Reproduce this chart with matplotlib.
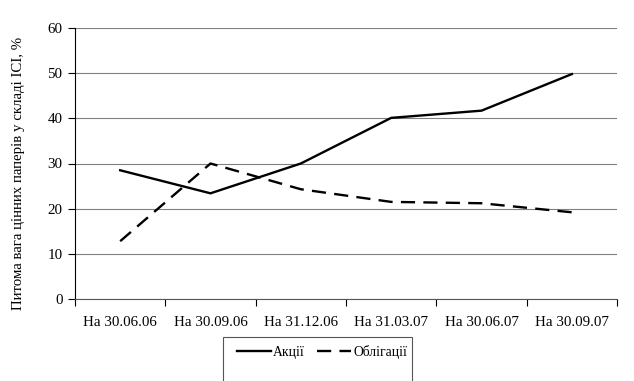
import matplotlib.pyplot as plt
from matplotlib.patches import Rectangle
import numpy as np

plt.rcParams['font.family'] = ['Liberation Serif', 'DejaVu Serif']

# Data
dates = ['На 30.06.06', 'На 30.09.06', 'На 31.12.06', 'На 31.03.07', 'На 30.06.07', 'На 30.09.07']
shares = [28.5, 23.4, 30.0, 40.1, 41.7, 49.8]
bonds = [12.8, 30.0, 24.3, 21.5, 21.2, 19.2]

fig = plt.figure(figsize=(6.34, 3.81), dpi=100)
ax = fig.add_axes([75 / 634, 1 - 299 / 381, 542 / 634, 271 / 381])

x = np.arange(len(dates))
ax.plot(x, shares, color='black', linewidth=1.7, linestyle='-', label='Акції')
ax.plot(x, bonds, color='black', linewidth=1.7, linestyle=(0, (6, 3.5)), label='Облігації')

ax.set_xlim(-0.5, len(dates) - 0.5)
ax.set_ylim(0, 60)
ax.set_yticks(range(0, 61, 10))
ax.set_xticks(x)
ax.set_xticklabels(dates)
ax.set_xticks(np.arange(-0.5, len(dates), 1), minor=True)
ax.tick_params(axis='x', which='major', length=0, pad=12, labelsize=10.8)
ax.tick_params(axis='x', which='minor', length=5, width=0.8, direction='out')
ax.tick_params(axis='y', length=5, width=0.8, direction='out', labelsize=10.8, pad=4)

ax.grid(axis='y', color='#808080', linewidth=0.8)
ax.set_axisbelow(True)
for side in ['top', 'right']:
    ax.spines[side].set_visible(False)
ax.spines['left'].set_color('black')
ax.spines['bottom'].set_color('#555555')

ax.set_ylabel('Питома вага цінних паперів у складі ІСІ, %', fontsize=10.7)
ax.yaxis.set_label_coords(-50 / 542, (299 - 173) / 271)

# legend box runs off the bottom of the picture, as in the source
fig.patches.append(Rectangle((223 / 634, 0 - 0.05), 189 / 634, (381 - 337) / 381 + 0.05,
                             transform=fig.transFigure, fill=False,
                             edgecolor='#555555', linewidth=0.8))
fig.legend(loc='center left', bbox_to_anchor=(230 / 634, 1 - 352 / 381), ncol=2,
           frameon=False, fontsize=9.8, handlelength=2.5, columnspacing=0.9,
           handletextpad=0.15, borderpad=0)

fig.savefig('out.png', dpi=100)
